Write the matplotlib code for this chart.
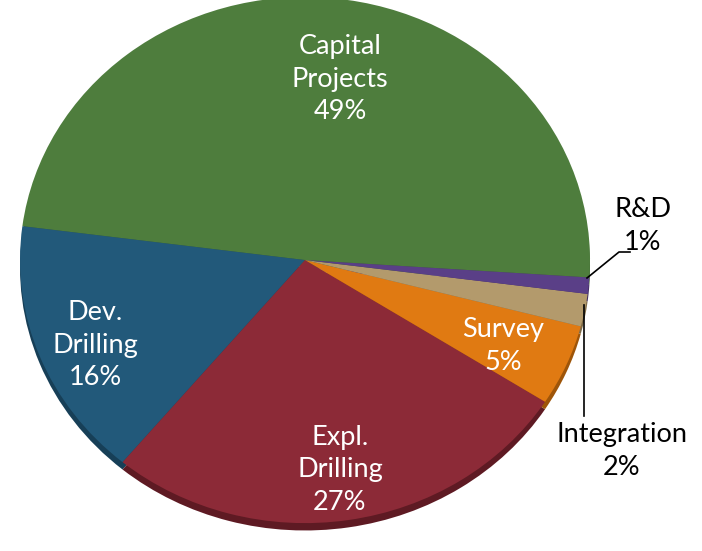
import matplotlib.pyplot as plt
import matplotlib.lines as mlines

# ============================================ data
labels = ['Capital\nProjects', 'Dev.\nDrilling', 'Expl.\nDrilling', 'Survey', 'Integration', 'R&D']
shares = [49, 16, 27, 5, 2, 1]
colors = ['#4E7D3D', '#22597A', '#8C2A37', '#E07A12', '#B39A6C', '#5A3F87']
rims = ['#3A5E2D', '#173F57', '#5E1A23', '#9E5509', '#7E6B49', '#3E2B5E']

W, H = 702, 551


def fx(x):
    return x / W


def fy(y):
    return 1 - y / H


plt.rcParams['font.family'] = ['Lato', 'DejaVu Sans']
fig = plt.figure(figsize=(W / 100, H / 100), dpi=100)
ax = fig.add_axes([0, 0, 1, 1])

# darker rim drawn slightly lower, then the top face
ax.pie(shares, colors=rims, startangle=-3.8, counterclock=True, center=(0, -0.028),
       wedgeprops=dict(linewidth=0))
ax.pie(shares, colors=colors, startangle=-3.8, counterclock=True, center=(0, 0),
       wedgeprops=dict(linewidth=0))
ax.set_aspect('auto')
ax.set_xlim(-1, 1)
ax.set_ylim(-1.03, 1)
# ellipse: x 20..590 px, y -3..527 px
ax.set_position([fx(20), fy(531), 570 / W, 534 / H])
ax.axis('off')

# labels inside the slices
inside = [(340, 79), (95, 345), (340, 470), (503, 346)]
for (x, y), lab, s in zip(inside, labels[:4], shares[:4]):
    fig.text(fx(x), fy(y), '%s\n%d%%' % (lab, s), color='white', fontsize=19.5,
             ha='center', va='center', linespacing=1.38)

# outside labels with leader lines
fig.text(fx(643), fy(226), '%s\n%d%%' % (labels[5], shares[5]), color='black',
         fontsize=19.5, ha='center', va='center', linespacing=1.38)
fig.text(fx(622), fy(451), '%s\n%d%%' % (labels[4], shares[4]), color='black',
         fontsize=19.5, ha='center', va='center', linespacing=1.38)
fig.add_artist(mlines.Line2D([fx(587), fx(619), fx(630)], [fy(278), fy(252), fy(252)],
                             color='black', lw=1.2))
fig.add_artist(mlines.Line2D([fx(584), fx(584)], [fy(305), fy(416)],
                             color='black', lw=1.2))

plt.savefig('out.png', dpi=100)
